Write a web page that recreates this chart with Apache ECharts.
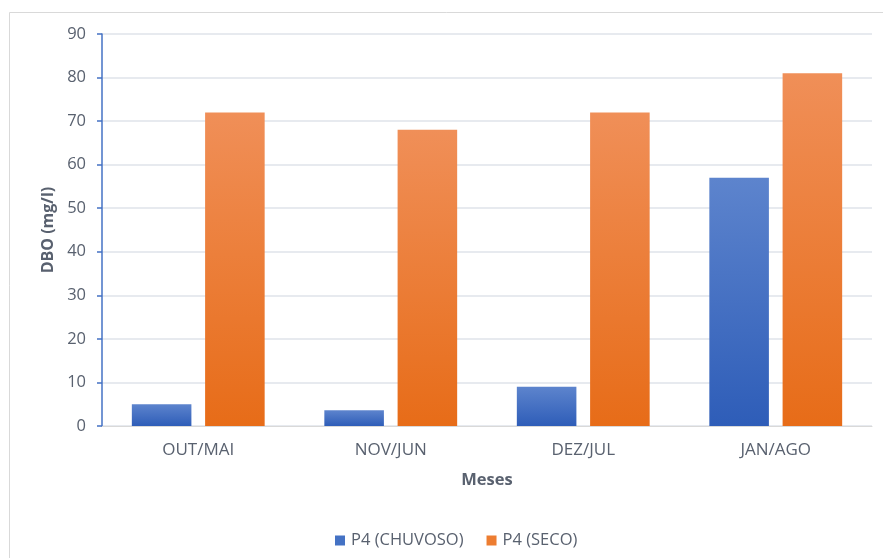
<!DOCTYPE html>
<html>
<head>
<meta charset="utf-8">
<script src="https://cdn.jsdelivr.net/npm/echarts@6/dist/echarts.min.js"></script>
<style>
  html, body { margin: 0; padding: 0; background: #fff; }
  #chart { width: 883px; height: 558px; }
</style>
</head>
<body>
<div id="chart"></div>
<script>
// Monthly DBO (mg/l) at point P4, rainy vs dry season
const categories = ['OUT/MAI', 'NOV/JUN', 'DEZ/JUL', 'JAN/AGO'];
const chuvoso = [5, 3.6, 9, 57];
const seco = [72, 68, 72, 81];
const seriesNames = ['P4 (CHUVOSO)', 'P4 (SECO)'];

const FONT = '"Open Sans", "Liberation Sans", sans-serif';
const TEXT = '#59616f';

function grad(top, bottom) {
  return new echarts.graphic.LinearGradient(0, 0, 0, 1, [
    { offset: 0, color: top },
    { offset: 1, color: bottom }
  ]);
}

const chart = echarts.init(document.getElementById('chart'), null, { renderer: 'canvas' });
chart.setOption({
  animation: false,
  backgroundColor: '#ffffff',
  textStyle: { fontFamily: FONT },
  graphic: [{
    type: 'rect',
    shape: { x: 9.5, y: 12.5, width: 900, height: 600 },
    style: { fill: 'none', stroke: '#d9d9d9', lineWidth: 1 },
    silent: true
  }],
  grid: { left: 102, right: 11, top: 34, bottom: 132, containLabel: false },
  legend: {
    top: 527,
    left: 330,
    itemWidth: 10,
    itemHeight: 10,
    itemGap: 23,
    icon: 'rect',
    textStyle: { color: TEXT, fontSize: 16.5, fontFamily: FONT, padding: [0, 0, 0, 1] },
    data: [
      { name: seriesNames[0], itemStyle: { color: '#4472c4' } },
      { name: seriesNames[1], itemStyle: { color: '#ed7d31' } }
    ]
  },
  xAxis: {
    type: 'category',
    data: categories,
    name: 'Meses',
    nameLocation: 'middle',
    nameGap: 46,
    nameTextStyle: { color: TEXT, fontSize: 16.5, fontWeight: 'bold', fontFamily: FONT },
    axisLine: { show: true, lineStyle: { color: '#d9d9d9', width: 1 } },
    axisTick: { show: false },
    axisLabel: { color: TEXT, fontSize: 17, margin: 16, fontFamily: FONT }
  },
  yAxis: {
    type: 'value',
    min: 0,
    max: 90,
    interval: 10,
    name: 'DBO (mg/l)',
    nameLocation: 'middle',
    nameGap: 46,
    nameRotate: 90,
    nameTextStyle: { color: TEXT, fontSize: 16, fontWeight: 'bold', fontFamily: FONT },
    axisLine: { show: true, lineStyle: { color: '#4472c4', width: 1.5 } },
    axisTick: { show: true, length: 5, inside: false, lineStyle: { color: '#4472c4', width: 1.5 } },
    axisLabel: { color: TEXT, fontSize: 16.5, margin: 16, fontFamily: FONT },
    splitLine: { show: true, lineStyle: { color: '#dfe3ea', width: 1.5 } }
  },
  series: [
    {
      name: seriesNames[0],
      type: 'bar',
      data: chuvoso,
      barGap: '23%',
      barCategoryGap: '31%',
      itemStyle: { color: grad('#5d84cd', '#2e5db8') }
    },
    {
      name: seriesNames[1],
      type: 'bar',
      data: seco,
      barGap: '23%',
      barCategoryGap: '31%',
      itemStyle: { color: grad('#f08f58', '#e76c18') }
    }
  ]
});
</script>
</body>
</html>
